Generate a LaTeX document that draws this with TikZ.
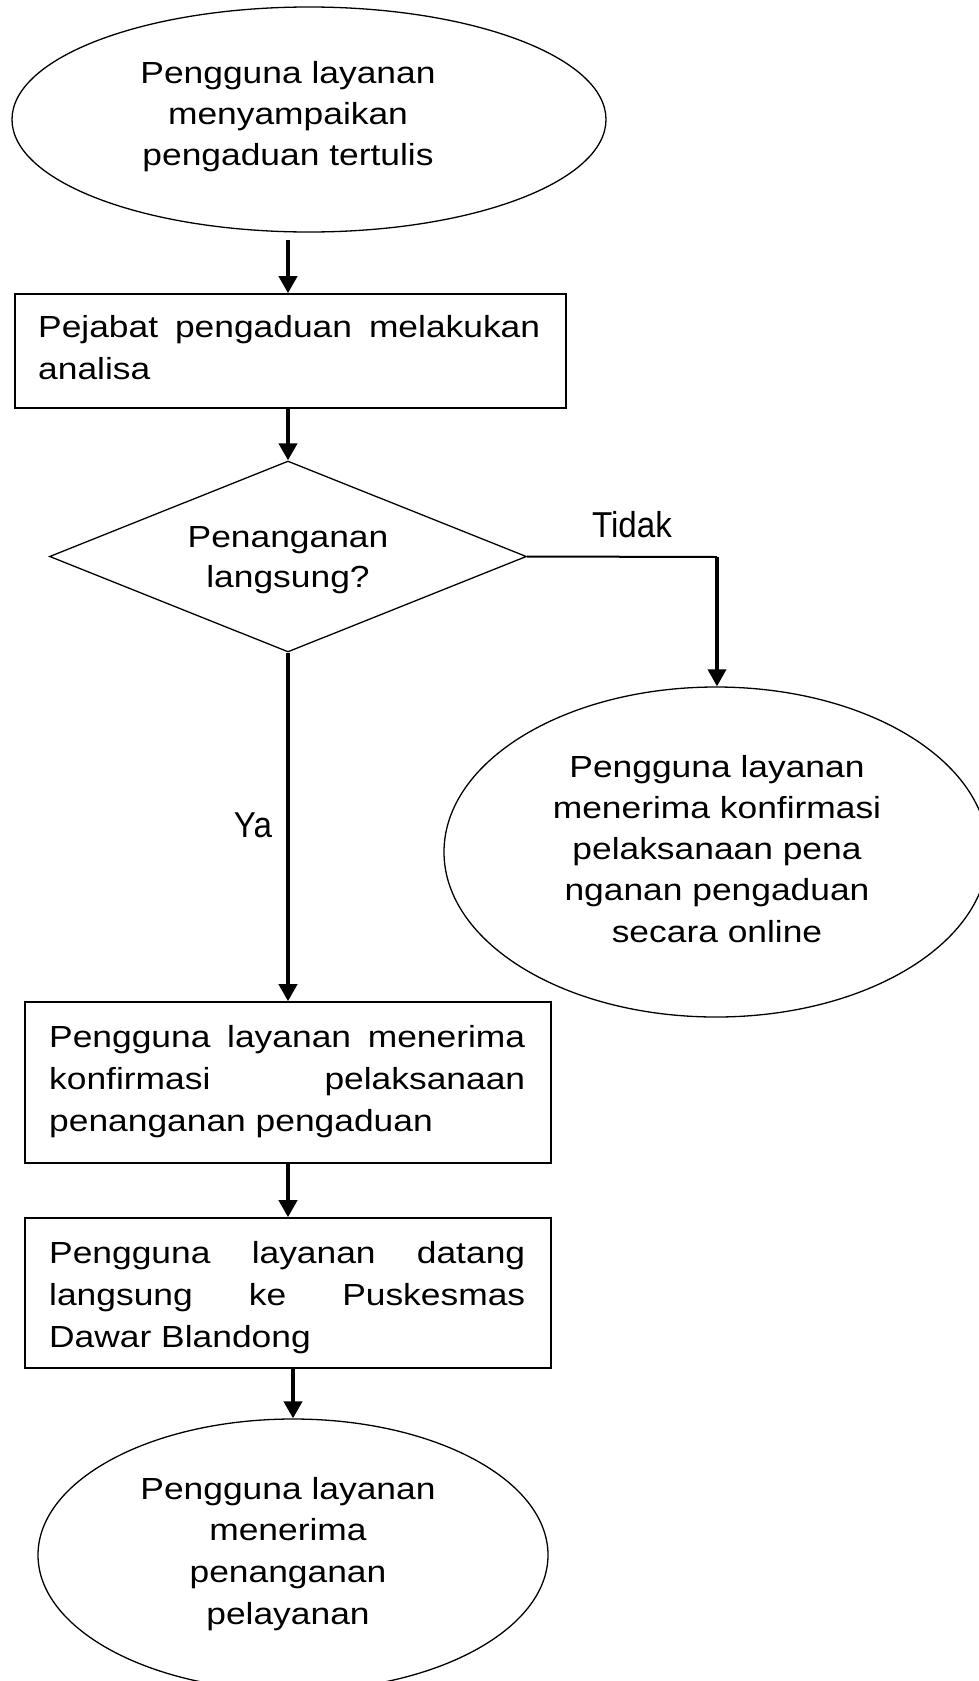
\documentclass[tikz,border=0pt]{standalone}
\usepackage{fontspec}
\setmainfont{Liberation Sans}[FakeStretch=1.16]
\newfontfamily\labfont{Liberation Sans}[FakeStretch=0.92]
\usetikzlibrary{shapes.geometric,arrows.meta}
\begin{document}
\begin{tikzpicture}[x=1pt,y=-1pt,
  shapeline/.style={draw=black,line width=1.3pt},
  ell/.style={shapeline,ellipse,inner sep=0pt},
  boxnode/.style={draw=black,line width=1.6pt,rectangle,inner sep=0pt},
  decision/.style={shapeline,diamond,inner sep=0pt,aspect=2.5},
  arr/.style={line width=4pt,-{Triangle[length=17pt,width=18pt]}},
  thinline/.style={line width=2pt},
  txt/.style={inner sep=0pt,anchor=base,font=\fontsize{30.5}{41}\selectfont},
  boxtxt/.style={inner sep=0pt,anchor=base west,font=\fontsize{30.5}{42}\selectfont},
  lbl/.style={inner sep=0pt,anchor=base,font=\labfont\fontsize{36}{40}\selectfont}
]
\useasboundingbox[fill=white] (0,0) rectangle (979,1681);

% shapes
\node[ell,minimum width=594pt,minimum height=225pt] (e1) at (309,119.5) {};
\node[boxnode,minimum width=551pt,minimum height=114pt] (b1) at (290.5,351) {};
\node[decision,minimum width=477pt,minimum height=191pt] (dia) at (288,556.5) {};
\node[ell,minimum width=544pt,minimum height=330pt] (e2) at (716,852) {};
\node[boxnode,minimum width=526pt,minimum height=161pt] (b3) at (288,1082.5) {};
\node[boxnode,minimum width=526pt,minimum height=150pt] (b4) at (288,1293) {};
\node[ell,minimum width=510pt,minimum height=272pt] (e3) at (293,1555) {};

% texts
\node[txt] (t1) at (288,83) {\begin{tabular}[t]{@{}c@{}}Pengguna layanan\\menyampaikan\\pengaduan tertulis\end{tabular}};
\node[boxtxt] (t2) at (38,337) {\parbox[t]{502pt}{\hbox to\linewidth{Pejabat\hfill pengaduan\hfill melakukan}\hbox{analisa}}};
\node[txt,font=\fontsize{30.5}{40}\selectfont] (t3) at (288,547) {\begin{tabular}[t]{@{}c@{}}Penanganan\\langsung?\end{tabular}};
\node[txt,font=\fontsize{30.5}{41.25}\selectfont] (t4) at (717,777) {\begin{tabular}[t]{@{}c@{}}Pengguna layanan\\menerima konfirmasi\\pelaksanaan pena\\nganan pengaduan\\secara online\end{tabular}};
\node[boxtxt] (t5) at (49,1047) {\parbox[t]{476pt}{\hbox to\linewidth{Pengguna\hfill layanan\hfill menerima}\hbox to\linewidth{konfirmasi\hfill pelaksanaan}\hbox{penanganan pengaduan}}};
\node[boxtxt] (t6) at (49,1263) {\parbox[t]{476pt}{\hbox to\linewidth{Pengguna\hfill layanan\hfill datang}\hbox to\linewidth{langsung\hfill ke\hfill Puskesmas}\hbox{Dawar Blandong}}};
\node[txt,font=\fontsize{30.5}{41.7}\selectfont] (t7) at (288,1499) {\begin{tabular}[t]{@{}c@{}}Pengguna layanan\\menerima\\penanganan\\pelayanan\end{tabular}};
\node[lbl] (tidak) at (632,537) {Tidak};
\node[lbl] (ya) at (253,837) {Ya};

% connectors
\coordinate (c1) at (288,240);
\coordinate (tc) at (717,557);
\draw[arr] (c1) -- (c1 |- b1.north);
\draw[arr] (dia.north |- b1.south) -- (dia.north);
\draw[thinline] (dia.east) -- (tc);
\draw[line width=3.5pt,-{Triangle[length=17pt,width=18pt]}] (tc) -- (tc |- e2.north);
\draw[arr] (dia.south) -- (dia.south |- b3.north);
\draw[arr] (b3.south) -- (b4.north);
\draw[arr] (e3.north |- b4.south) -- (e3.north);
\end{tikzpicture}
\end{document}
